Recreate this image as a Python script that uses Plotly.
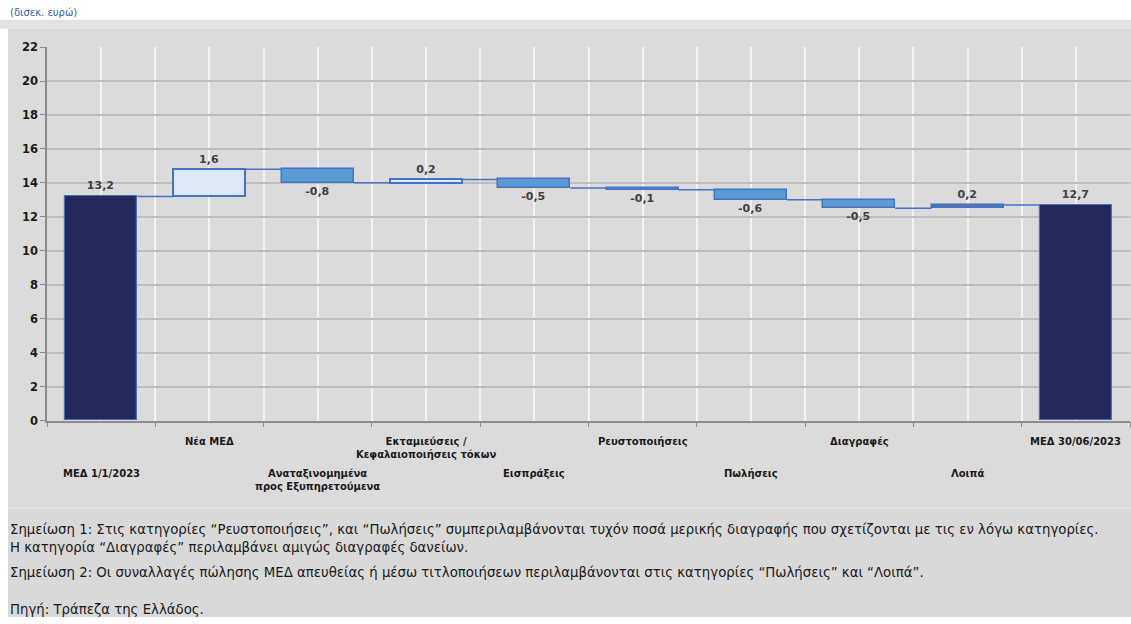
import plotly.graph_objects as go

W, H = 1131, 624

# Non-performing exposures (NPE) flows, H1 2023, EUR bn
categories = [
    "ΜΕΔ 1/1/2023",
    "Νέα ΜΕΔ",
    "Αναταξινομημένα<br>προς Εξυπηρετούμενα",
    "Εκταμιεύσεις /<br>Κεφαλαιοποιήσεις τόκων",
    "Εισπράξεις",
    "Ρευστοποιήσεις",
    "Πωλήσεις",
    "Διαγραφές",
    "Λοιπά",
    "ΜΕΔ 30/06/2023",
]
values = [13.2, 1.6, -0.8, 0.2, -0.5, -0.1, -0.6, -0.5, 0.2, 12.7]
is_total = [True, False, False, False, False, False, False, False, False, True]

y_ticks = list(range(0, 23, 2))

notes = [
    "Σημείωση 1: Στις κατηγορίες “Ρευστοποιήσεις”, και “Πωλήσεις” συμπεριλαμβάνονται τυχόν ποσά μερικής διαγραφής που σχετίζονται με τις εν λόγω κατηγορίες.",
    "Η κατηγορία “Διαγραφές” περιλαμβάνει αμιγώς διαγραφές δανείων.",
    "Σημείωση 2: Οι συναλλαγές πώλησης ΜΕΔ απευθείας ή μέσω τιτλοποιήσεων περιλαμβάνονται στις κατηγορίες “Πωλήσεις” και “Λοιπά”.",
    "Πηγή: Τράπεζα της Ελλάδος.",
]
unit_label = "(δισεκ. ευρώ)"

# colours
NAVY = "#25285a"
EDGE = "#4472c4"
POS_FILL = "#dfe9f6"
NEG_FILL = "#5b9bd5"
OTHER_FILL = "#4a73c2"

# running totals -> bar bases
bases, levels = [], []
running = 0.0
for v, tot in zip(values, is_total):
    if tot:
        bases.append(0.0)
        running = v
    else:
        bases.append(running)
        running = running + v
    levels.append(running)

xs = list(range(len(categories)))
bar_w = 0.665

fills, line_colors, line_widths = [], [], []
for i, (v, tot) in enumerate(zip(values, is_total)):
    if tot:
        fills.append(NAVY); line_colors.append("#4a6db4"); line_widths.append(1.2)
    elif categories[i] == "Λοιπά":
        fills.append(OTHER_FILL); line_colors.append(EDGE); line_widths.append(1.5)
    elif v >= 0:
        fills.append(POS_FILL); line_colors.append(EDGE); line_widths.append(2)
    else:
        fills.append(NEG_FILL); line_colors.append(EDGE); line_widths.append(1.5)

labels = [f"{v:.1f}".replace(".", ",") for v in values]

fig = go.Figure()

# connectors between consecutive bars
cx, cy = [], []
for i in range(len(xs) - 1):
    cx += [xs[i] + bar_w / 2, xs[i + 1] - bar_w / 2, None]
    cy += [levels[i], levels[i], None]
fig.add_trace(go.Scatter(x=cx, y=cy, mode="lines",
                         line=dict(color=EDGE, width=1.5),
                         hoverinfo="skip", showlegend=False))

fig.add_trace(go.Bar(
    x=xs, y=values, base=bases, width=bar_w,
    marker=dict(color=fills, line=dict(color=line_colors, width=line_widths)),
    text=labels, textposition="outside", cliponaxis=False,
    textfont=dict(family="DejaVu Sans", size=11, color="#404040", weight="bold"),
    showlegend=False,
))

x0, x1 = 47 / W, 1130 / W
y0, y1 = 1 - 423 / H, 1 - 41 / H

fig.update_layout(
    width=W, height=H,
    margin=dict(l=0, r=0, t=0, b=0),
    paper_bgcolor="white",
    plot_bgcolor="rgba(0,0,0,0)",
    bargap=0,
    font=dict(family="DejaVu Sans", color="#1a1a1a"),
    xaxis=dict(
        domain=[x0, x1], range=[-0.5, len(xs) - 0.5],
        tickvals=[i - 0.5 for i in range(len(xs) + 1)],
        showticklabels=False, ticks="outside", ticklen=5, tickcolor="#8c8c8c",
        showline=True, linecolor="#8c8c8c", linewidth=1.5,
        showgrid=True, gridcolor="#f2f2f2", gridwidth=1.5,
        minor=dict(tickvals=xs, showgrid=True, gridcolor="#f2f2f2",
                   gridwidth=1.5, ticklen=0),
        zeroline=False, fixedrange=True,
    ),
    yaxis=dict(
        domain=[y0, y1], range=[0, 22], tickvals=y_ticks,
        ticks="outside", ticklen=5, tickcolor="#8c8c8c",
        showline=True, linecolor="#8c8c8c", linewidth=1.5,
        showgrid=True, gridcolor="#bdbdbd", gridwidth=1.5,
        zeroline=False,
        tickfont=dict(family="DejaVu Sans", size=11.5, color="#1a1a1a", weight="bold"),
        fixedrange=True,
    ),
)

# background panels
fig.add_shape(type="rect", xref="paper", yref="paper", layer="below",
              x0=0, x1=1, y0=1 - 22 / H, y1=1 - 13 / H,
              fillcolor="#e3e3e3", line_width=0)
fig.add_shape(type="rect", xref="paper", yref="paper", layer="below",
              x0=8 / W, x1=1, y0=1 - 513 / H, y1=1 - 22 / H,
              fillcolor="#dbdbdb", line_width=0)
fig.add_shape(type="rect", xref="paper", yref="paper", layer="below",
              x0=8 / W, x1=1, y0=0, y1=1 - 513 / H,
              fillcolor="#d9d9d9", line_width=0)

# staggered category labels
for i, name in enumerate(categories):
    top_px = 437 if i % 2 == 1 else 470
    fig.add_annotation(
        x=xs[i], xref="x", y=1 - top_px / H, yref="paper",
        text=f"<b>{name}</b>", showarrow=False,
        xanchor="center", yanchor="top", align="center",
        font=dict(family="DejaVu Sans", size=10, color="#1a1a1a"),
    )

# unit label in the top strip
fig.add_annotation(x=8 / W, xref="paper", y=1 - 6 / H, yref="paper",
                   text=unit_label, showarrow=False, xanchor="left", yanchor="middle",
                   font=dict(family="DejaVu Sans", size=10, color="#2f5fb3"))

# notes
note_y = [535, 553, 578, 616]
for txt, py in zip(notes, note_y):
    fig.add_annotation(x=8 / W, xref="paper", y=1 - py / H, yref="paper",
                       text=txt, showarrow=False, xanchor="left", yanchor="middle",
                       font=dict(family="DejaVu Sans", size=13.3, color="#1a1a1a"))

fig.write_html("out.html")
